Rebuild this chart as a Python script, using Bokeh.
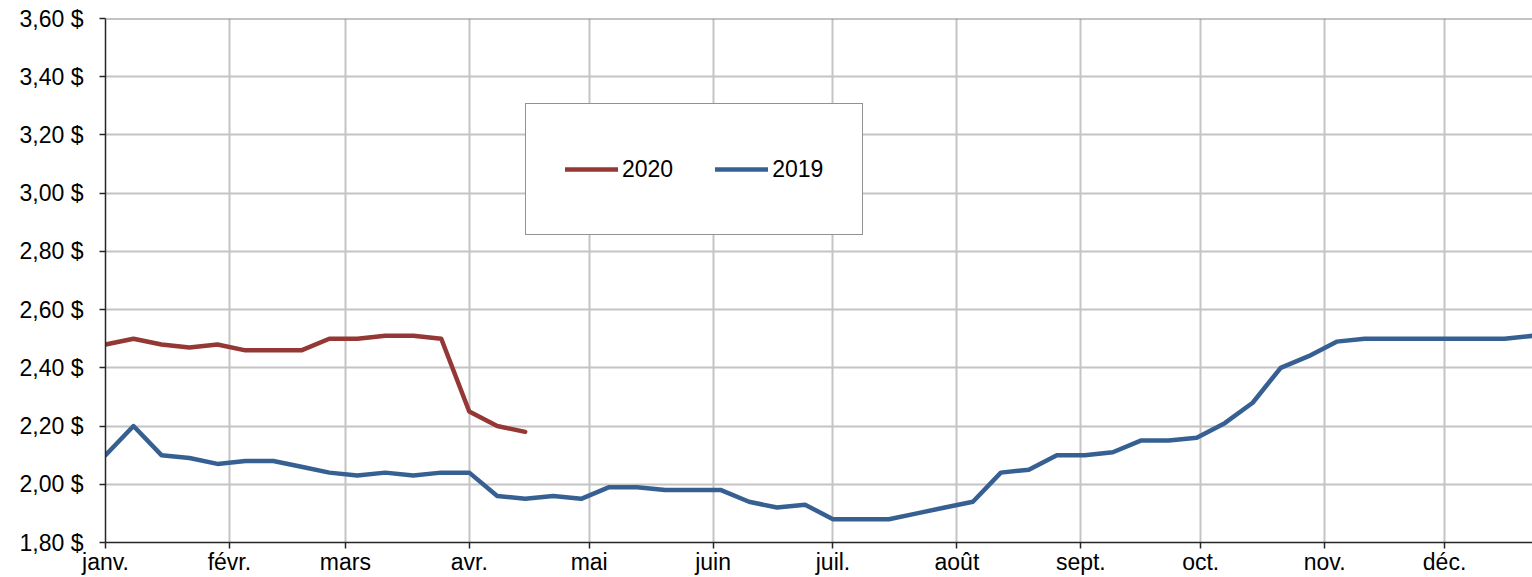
from bokeh.plotting import figure
from bokeh.models import Range1d, FixedTicker, Legend, LegendItem, Span
from bokeh.embed import file_html
from bokeh.resources import INLINE

# ---- data (weekly prices, week 0 = first week of January) ----
prices_2019 = [2.10, 2.20, 2.10, 2.09, 2.07, 2.08, 2.08, 2.06, 2.04, 2.03,
               2.04, 2.03, 2.04, 2.04, 1.96, 1.95, 1.96, 1.95, 1.99, 1.99,
               1.98, 1.98, 1.98, 1.94, 1.92, 1.93, 1.88, 1.88, 1.88, 1.90,
               1.92, 1.94, 2.04, 2.05, 2.10, 2.10, 2.11, 2.15, 2.15, 2.16,
               2.21, 2.28, 2.40, 2.44, 2.49, 2.50, 2.50, 2.50, 2.50, 2.50,
               2.50, 2.51]
prices_2020 = [2.48, 2.50, 2.48, 2.47, 2.48, 2.46, 2.46, 2.46, 2.50, 2.50,
               2.51, 2.51, 2.50, 2.25, 2.20, 2.18]
series_names = ["2020", "2019"]

month_labels = ["janv.", "févr.", "mars", "avr.", "mai", "juin",
                "juil.", "août", "sept.", "oct.", "nov.", "déc."]
month_start_days = [0, 31, 60, 91, 121, 152, 182, 213, 244, 274, 305, 335]

y_ticks = [1.8, 2.0, 2.2, 2.4, 2.6, 2.8, 3.0, 3.2, 3.4, 3.6]
y_tick_labels = ["1,80 $", "2,00 $", "2,20 $", "2,40 $", "2,60 $",
                 "2,80 $", "3,00 $", "3,20 $", "3,40 $", "3,60 $"]

days_2019 = [7 * i for i in range(len(prices_2019))]
days_2020 = [7 * i for i in range(len(prices_2020))]

FONT = "Liberation Sans"
RED = "#953735"
BLUE = "#376092"

p = figure(width=1532, height=577, output_backend="svg", toolbar_location=None,
           x_range=Range1d(0, days_2019[-1]), y_range=Range1d(y_ticks[0], y_ticks[-1]),
           min_border_left=105, min_border_top=18, min_border_right=0,
           min_border_bottom=30)
p.outline_line_color = None
p.background_fill_color = "white"
p.border_fill_color = "white"

# grid
p.xgrid.ticker = FixedTicker(ticks=month_start_days)
p.ygrid.ticker = FixedTicker(ticks=y_ticks)
for g in (p.xgrid, p.ygrid):
    g.grid_line_color = "#c4c4c4"
    g.grid_line_width = 2

# top line
p.add_layout(Span(location=y_ticks[-1], dimension="width",
                  line_color="#878787", line_width=2))

# axes
p.xaxis.ticker = FixedTicker(ticks=month_start_days)
p.xaxis.major_label_overrides = {d: l for d, l in zip(month_start_days, month_labels)}
p.yaxis.ticker = FixedTicker(ticks=y_ticks)
p.yaxis.major_label_overrides = {t: l for t, l in zip(y_ticks, y_tick_labels)}
for ax in (p.xaxis, p.yaxis):
    ax.axis_line_color = "#262626"
    ax.axis_line_width = 1.5
    ax.major_tick_line_color = "#262626"
    ax.major_tick_line_width = 1.5
    ax.major_tick_in = 0
    ax.major_tick_out = 6
    ax.minor_tick_line_color = None
    ax.major_label_text_font = FONT
    ax.major_label_text_font_size = "23px"
    ax.major_label_text_color = "black"
p.xaxis.major_label_standoff = 0
p.yaxis.major_label_standoff = 16

r19 = p.line(days_2019, prices_2019, line_color=BLUE, line_width=4.5,
             line_join="round", line_cap="round")
r20 = p.line(days_2020, prices_2020, line_color=RED, line_width=4.5,
             line_join="round", line_cap="round")

legend = Legend(items=[LegendItem(label=series_names[0], renderers=[r20]),
                       LegendItem(label=series_names[1], renderers=[r19])],
                orientation="horizontal", location=(420, 307),
                padding=39, spacing=42, margin=0,
                glyph_width=53, glyph_height=52, label_height=52,
                label_standoff=4, label_width=50,
                label_text_font=FONT, label_text_font_size="23px",
                label_text_color="black",
                border_line_color="#262626", border_line_width=1,
                background_fill_color="white", background_fill_alpha=1)
p.add_layout(legend, "center")

open("out.html", "w").write(file_html(p, INLINE))
